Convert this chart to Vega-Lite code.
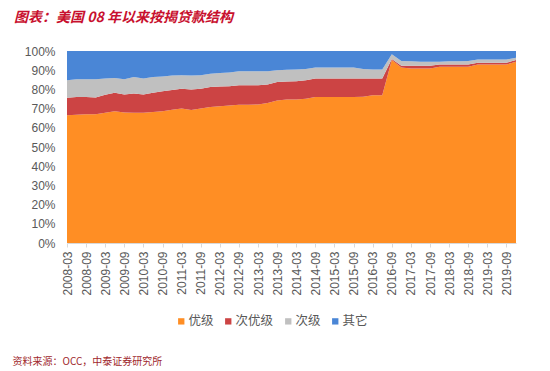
{
  "$schema": "https://vega.github.io/schema/vega-lite/v6.json",
  "width": 449,
  "height": 192,
  "autosize": "none",
  "padding": {"left": 67, "top": 51, "right": 34, "bottom": 128},
  "background": "white",
  "title": {
    "text": "图表：美国 08 年以来按揭贷款结构",
    "anchor": "start",
    "frame": "group",
    "dx": -53,
    "offset": 20,
    "font": "Noto Sans CJK SC",
    "fontSize": 14,
    "fontWeight": "bold",
    "fontStyle": "italic",
    "color": "#C8102E"
  },
  "datasets": {
    "rank": [
      {"type": "优级", "rank": 1},
      {"type": "次优级", "rank": 2},
      {"type": "次级", "rank": 3},
      {"type": "其它", "rank": 4}
    ]
  },
  "data": {
    "values": [
      {"q": "2008-03", "优级": 66.5, "次优级": 9.2, "次级": 9.1, "其它": 15.2},
      {"q": "2008-06", "优级": 66.8, "次优级": 9.2, "次级": 9.3, "其它": 14.7},
      {"q": "2008-09", "优级": 67.0, "次优级": 9.0, "次级": 9.3, "其它": 14.7},
      {"q": "2008-12", "优级": 67.0, "次优级": 8.8, "次级": 9.5, "其它": 14.7},
      {"q": "2009-03", "优级": 67.8, "次优级": 9.4, "次级": 8.5, "其它": 14.3},
      {"q": "2009-06", "优级": 68.6, "次优级": 9.7, "次级": 7.7, "其它": 14.0},
      {"q": "2009-09", "优级": 68.0, "次优级": 9.3, "次级": 8.0, "其它": 14.7},
      {"q": "2009-12", "优级": 67.8, "次优级": 10.0, "次级": 8.6, "其它": 13.6},
      {"q": "2010-03", "优级": 67.8, "次优级": 9.5, "次级": 8.4, "其它": 14.3},
      {"q": "2010-06", "优级": 68.2, "次优级": 10.1, "次级": 8.1, "其它": 13.6},
      {"q": "2010-09", "优级": 68.6, "次优级": 10.4, "次级": 7.7, "其它": 13.3},
      {"q": "2010-12", "优级": 69.4, "次优级": 10.3, "次级": 7.5, "其它": 12.8},
      {"q": "2011-03", "优级": 70.0, "次优级": 10.4, "次级": 7.0, "其它": 12.6},
      {"q": "2011-06", "优级": 69.3, "次优级": 10.6, "次级": 7.3, "其它": 12.8},
      {"q": "2011-09", "优级": 70.0, "次优级": 10.4, "次级": 7.0, "其它": 12.6},
      {"q": "2011-12", "优级": 70.8, "次优级": 10.5, "次级": 6.8, "其它": 11.9},
      {"q": "2012-03", "优级": 71.2, "次优级": 10.3, "次级": 7.0, "其它": 11.5},
      {"q": "2012-06", "优级": 71.6, "次优级": 10.0, "次级": 7.2, "其它": 11.2},
      {"q": "2012-09", "优级": 72.0, "次优级": 10.2, "次级": 7.2, "其它": 10.6},
      {"q": "2012-12", "优级": 72.0, "次优级": 10.2, "次级": 7.2, "其它": 10.6},
      {"q": "2013-03", "优级": 72.2, "次优级": 10.0, "次级": 7.2, "其它": 10.6},
      {"q": "2013-06", "优级": 72.9, "次优级": 9.6, "次级": 6.9, "其它": 10.6},
      {"q": "2013-09", "优级": 74.2, "次优级": 9.7, "次级": 6.1, "其它": 10.0},
      {"q": "2013-12", "优级": 74.7, "次优级": 9.4, "次级": 6.1, "其它": 9.8},
      {"q": "2014-03", "优级": 74.8, "次优级": 9.5, "次级": 6.1, "其它": 9.6},
      {"q": "2014-06", "优级": 75.1, "次优级": 9.7, "次级": 5.8, "其它": 9.4},
      {"q": "2014-09", "优级": 76.0, "次优级": 9.7, "次级": 5.7, "其它": 8.6},
      {"q": "2014-12", "优级": 76.0, "次优级": 9.7, "次级": 5.7, "其它": 8.6},
      {"q": "2015-03", "优级": 76.0, "次优级": 9.7, "次级": 5.7, "其它": 8.6},
      {"q": "2015-06", "优级": 76.0, "次优级": 9.7, "次级": 5.7, "其它": 8.6},
      {"q": "2015-09", "优级": 76.0, "次优级": 9.7, "次级": 5.7, "其它": 8.6},
      {"q": "2015-12", "优级": 76.2, "次优级": 9.5, "次级": 4.9, "其它": 9.4},
      {"q": "2016-03", "优级": 76.9, "次优级": 8.8, "次级": 4.7, "其它": 9.6},
      {"q": "2016-06", "优级": 77.0, "次优级": 8.7, "次级": 4.7, "其它": 9.6},
      {"q": "2016-09", "优级": 95.3, "次优级": 0.5, "次级": 2.5, "其它": 1.7},
      {"q": "2016-12", "优级": 91.4, "次优级": 0.9, "次级": 2.5, "其它": 5.2},
      {"q": "2017-03", "优级": 90.9, "次优级": 1.4, "次级": 2.3, "其它": 5.4},
      {"q": "2017-06", "优级": 90.9, "次优级": 1.4, "次级": 2.1, "其它": 5.6},
      {"q": "2017-09", "优级": 90.9, "次优级": 1.4, "次级": 2.1, "其它": 5.6},
      {"q": "2017-12", "优级": 91.8, "次优级": 1.2, "次级": 1.4, "其它": 5.6},
      {"q": "2018-03", "优级": 91.8, "次优级": 1.2, "次级": 1.6, "其它": 5.4},
      {"q": "2018-06", "优级": 91.8, "次优级": 1.2, "次级": 1.7, "其它": 5.3},
      {"q": "2018-09", "优级": 91.8, "次优级": 1.2, "次级": 1.8, "其它": 5.2},
      {"q": "2018-12", "优级": 93.0, "次优级": 0.9, "次级": 1.7, "其它": 4.4},
      {"q": "2019-03", "优级": 93.0, "次优级": 0.9, "次级": 1.7, "其它": 4.4},
      {"q": "2019-06", "优级": 93.0, "次优级": 0.9, "次级": 1.7, "其它": 4.4},
      {"q": "2019-09", "优级": 93.0, "次优级": 0.9, "次级": 1.7, "其它": 4.4},
      {"q": "2019-12", "优级": 94.4, "次优级": 0.9, "次级": 1.2, "其它": 3.5}
    ]
  },
  "transform": [
    {"fold": ["优级", "次优级", "次级", "其它"], "as": ["type", "value"]},
    {"lookup": "type", "from": {"data": {"name": "rank"}, "key": "type", "fields": ["rank"]}}
  ],
  "mark": {"type": "area", "interpolate": "linear"},
  "encoding": {
    "x": {
      "field": "q",
      "type": "ordinal",
      "scale": {"type": "point", "padding": 0},
      "axis": {
        "title": "资料来源：OCC，中泰证券研究所",
        "titleFont": "Noto Sans CJK SC",
        "titleFontSize": 10,
        "titleFontWeight": "normal",
        "titleColor": "#A0282C",
        "titleAnchor": "start",
        "titleAlign": "left",
        "titleBaseline": "middle",
        "titleX": -55,
        "titleY": 118,
        "values": ["2008-03","2008-09","2009-03","2009-09","2010-03","2010-09","2011-03","2011-09","2012-03","2012-09","2013-03","2013-09","2014-03","2014-09","2015-03","2015-09","2016-03","2016-09","2017-03","2017-09","2018-03","2018-09","2019-03","2019-09"],
        "labelAngle": -90,
        "labelFont": "Liberation Sans",
        "labelFontSize": 12,
        "labelColor": "#595959",
        "labelPadding": 4,
        "domainColor": "#D9D9D9",
        "tickColor": "#D9D9D9",
        "tickSize": 4,
        "grid": false
      }
    },
    "y": {
      "field": "value",
      "type": "quantitative",
      "stack": "normalize",
      "scale": {"domain": [0, 1]},
      "axis": {
        "title": null,
        "format": ".0%",
        "values": [0, 0.1, 0.2, 0.3, 0.4, 0.5, 0.6, 0.7, 0.8, 0.9, 1],
        "labelFont": "Liberation Sans",
        "labelFontSize": 12,
        "labelColor": "#595959",
        "labelPadding": 12,
        "domain": false,
        "ticks": false,
        "grid": false
      }
    },
    "color": {
      "field": "type",
      "type": "nominal",
      "scale": {
        "domain": ["优级", "次优级", "次级", "其它"],
        "range": ["#FF8E24", "#CC4444", "#C0C0C0", "#4A86D6"]
      },
      "legend": {
        "title": null,
        "orient": "none",
        "direction": "horizontal",
        "legendX": 108,
        "legendY": 264,
        "symbolType": "square",
        "symbolSize": 40,
        "symbolStrokeWidth": 0,
        "labelFont": "Noto Sans CJK SC",
        "labelFontSize": 12.5,
        "labelColor": "#595959",
        "labelOffset": 1,
        "columnPadding": 8
      }
    },
    "order": {"field": "rank", "type": "quantitative"}
  },
  "config": {"view": {"stroke": null}}
}
